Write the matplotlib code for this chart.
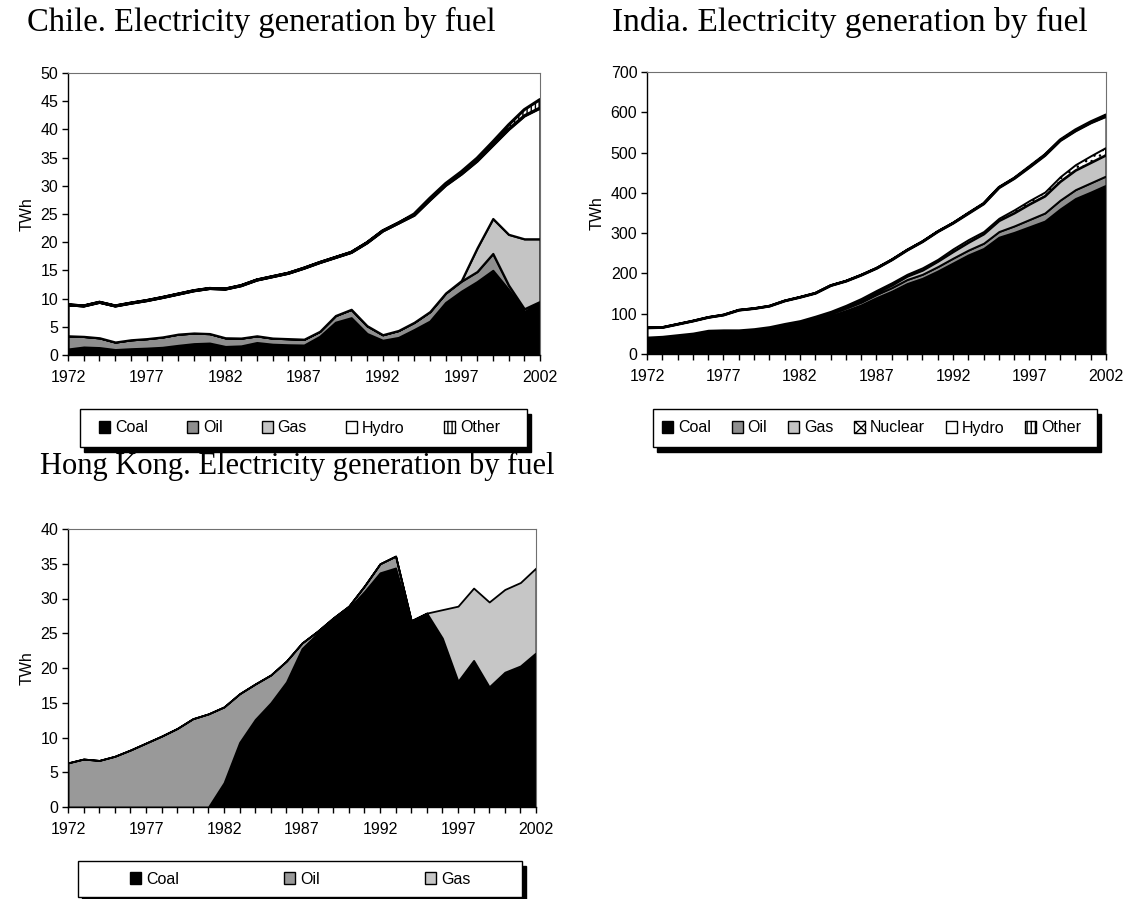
import matplotlib.pyplot as plt
from matplotlib.patches import Patch, Rectangle
from matplotlib.ticker import MultipleLocator

years = list(range(1972, 2003))

# Chile, TWh
chile_coal = [1.05, 1.4, 1.3, 0.95, 1.1, 1.2, 1.35, 1.7, 2.0, 2.1, 1.5, 1.6, 2.2, 1.9, 1.8, 1.75,
              3.3, 5.8, 6.6, 3.8, 2.6, 3.1, 4.5, 6.0, 9.3, 11.3, 13.0, 15.0, 11.6, 7.7, 9.2]
chile_oil = [2.35, 1.9, 1.75, 1.35, 1.6, 1.7, 1.85, 2.0, 1.9, 1.7, 1.55, 1.4, 1.2, 1.1, 1.1, 1.05,
             0.9, 1.2, 1.5, 1.4, 1.0, 1.25, 1.3, 1.7, 1.7, 1.8, 1.8, 3.0, 0.8, 0.5, 0.3]
chile_gas = [0, 0, 0, 0, 0, 0, 0, 0, 0, 0, 0, 0, 0, 0, 0, 0,
             0, 0, 0, 0, 0, 0, 0, 0, 0, 0.1, 4.2, 6.2, 9.0, 12.4, 11.1]
chile_hydro = [5.5, 5.4, 6.3, 6.4, 6.5, 6.75, 7.0, 7.1, 7.5, 8.0, 8.65, 9.3, 9.9, 10.9, 11.6, 12.6,
               12.2, 10.3, 10.1, 14.7, 18.4, 19.05, 19.0, 19.8, 19.1, 18.9, 15.4, 13.0, 18.6, 21.8, 23.2]
chile_other = [0, 0, 0, 0, 0, 0, 0, 0, 0, 0, 0, 0, 0, 0, 0, 0,
               0, 0, 0, 0, 0, 0, 0.2, 0.3, 0.3, 0.4, 0.5, 0.6, 0.8, 1.1, 1.5]

# India, TWh
india_coal = [38, 40, 44, 48, 53, 54, 54, 57, 61, 68, 76, 84, 95, 108, 122, 140,
              156, 175, 188, 206, 226, 246, 262, 290, 302, 316, 330, 360, 386, 402, 419]
india_oil = [2, 2, 2, 2, 3, 3, 3, 3, 3, 4, 4, 5, 5, 6, 7, 8,
             9, 10, 10, 11, 12, 12, 13, 14, 16, 18, 20, 22, 22, 23, 23]
india_gas = [0, 0, 0, 0, 0, 0, 0, 0, 1, 1, 1, 2, 2, 3, 4, 5,
             6, 8, 10, 13, 16, 19, 23, 27, 32, 38, 42, 46, 48, 50, 52]
india_nuclear = [2, 2, 2, 2, 3, 3, 3, 3, 3, 3, 2, 3, 4, 4, 5, 5,
                 6, 5, 6, 5, 7, 7, 6, 6, 8, 9, 10, 12, 14, 17, 19]
india_hydro = [23, 22, 26, 30, 32, 37, 49, 50, 51, 56, 58, 57, 64, 60, 58, 55,
               57, 60, 65, 69, 64, 65, 69, 76, 78, 83, 91, 90, 84, 82, 77]
india_other = [0, 0, 0, 0, 0, 0, 0, 0, 0, 0, 0, 0, 0, 0, 0, 0,
               0, 0, 0, 0, 0, 1, 1, 1, 1, 2, 2, 2, 3, 3, 4]

# Hong Kong, TWh
hk_coal = [0, 0, 0, 0, 0, 0, 0, 0, 0, 0, 3.5, 9.3, 12.6, 15.0, 18.0, 22.8,
           25.0, 26.9, 28.6, 31.0, 33.7, 34.4, 26.6, 27.6, 24.2, 18.0, 21.0, 17.2, 19.3, 20.2, 22.1]
hk_oil = [6.35, 6.9, 6.7, 7.3, 8.2, 9.2, 10.2, 11.3, 12.7, 13.4, 10.9, 7.0, 5.1, 4.0, 3.0, 0.8,
          0.3, 0.3, 0.3, 0.8, 1.3, 1.7, 0.2, 0.3, 0.1, 0.1, 0.1, 0.1, 0.1, 0.1, 0.1]
hk_gas = [0, 0, 0, 0, 0, 0, 0, 0, 0, 0, 0, 0, 0, 0, 0, 0,
          0, 0, 0, 0, 0, 0, 0, 0, 4.1, 10.8, 10.4, 12.2, 11.9, 12.0, 12.2]

COAL, OIL, GAS = 'black', '#8e8e8e', '#c4c4c4'

plt.rcParams['font.family'] = ['Liberation Sans', 'DejaVu Sans']
plt.rcParams['hatch.linewidth'] = 1.0

W, H = 1127, 899
fig = plt.figure(figsize=(W / 100, H / 100), dpi=100)


def px_axes(left, top, right, bottom):
    return fig.add_axes([left / W, 1 - bottom / H, (right - left) / W, (bottom - top) / H])


def style(ax, ymax, ystep):
    ax.set_xlim(1972, 2002)
    ax.set_ylim(0, ymax)
    ax.set_xticks(range(1972, 2003, 5))
    ax.xaxis.set_minor_locator(MultipleLocator(1))
    ax.yaxis.set_major_locator(MultipleLocator(ystep))
    ax.tick_params(direction='out', length=4, width=1, labelsize=11.5)
    ax.tick_params(axis='x', which='minor', direction='out', length=4, width=1)
    ax.tick_params(axis='x', pad=7)
    ax.tick_params(axis='y', pad=3)
    for s in ('top', 'right'):
        ax.spines[s].set_color('#707070')
        ax.spines[s].set_linewidth(0.8)
    for s in ('left', 'bottom'):
        ax.spines[s].set_linewidth(1.0)
    ax.set_ylabel('TWh', fontsize=11.5, labelpad=4)


def legend_box(x0, y0, x1, y1, handles, labels, first_x, spacing):
    fig.patches.append(Rectangle(((x0 + 4) / W, 1 - (y1 + 5) / H), (x1 - x0) / W, (y1 - y0) / H,
                                 transform=fig.transFigure, facecolor='black', edgecolor='black', zorder=1))
    fig.patches.append(Rectangle((x0 / W, 1 - y1 / H), (x1 - x0) / W, (y1 - y0) / H,
                                 transform=fig.transFigure, facecolor='white', edgecolor='black',
                                 linewidth=1, zorder=2))
    fig.legend(handles, labels, loc='center left', bbox_to_anchor=(first_x / W, 1 - (y0 + y1) / 2 / H),
               ncol=len(labels), frameon=False, fontsize=11.5, handlelength=0.7, handleheight=0.7,
               handletextpad=0.3, columnspacing=spacing, borderpad=0, borderaxespad=0)


def swatch(color, hatch=None):
    return Patch(facecolor=color, edgecolor='black', hatch=hatch, linewidth=1)


title_kw = dict(family='Liberation Serif', va='center', ha='left')

# Chile
ax1 = px_axes(68, 73, 540, 355)
polys = ax1.stackplot(years, chile_coal, chile_oil, chile_gas, chile_hydro, chile_other,
                      colors=[COAL, OIL, GAS, 'white', 'white'], edgecolor='black', linewidth=1.6)
polys[4].set_hatch('||||')
polys[4].set_linewidth(2.2)
style(ax1, 50, 5)
fig.text(27 / W, 1 - 22 / H, 'Chile. Electricity generation by fuel', fontsize=23.5, **title_kw)
legend_box(80, 409, 527, 447,
           [swatch(COAL), swatch(OIL), swatch(GAS), swatch('white'), swatch('white', '||||')],
           ['Coal', 'Oil', 'Gas', 'Hydro', 'Other'], 99, 2.45)

# India
ax2 = px_axes(647, 72, 1106, 354)
polys = ax2.stackplot(years, india_coal, india_oil, india_gas, india_nuclear, india_hydro, india_other,
                      colors=[COAL, OIL, GAS, 'white', 'white', 'white'], edgecolor='black', linewidth=1.4)
polys[3].set_hatch('...')
polys[5].set_hatch('||||')
polys[5].set_linewidth(1.8)
style(ax2, 700, 100)
fig.text(612 / W, 1 - 22 / H, 'India. Electricity generation by fuel', fontsize=24, **title_kw)
legend_box(653, 409, 1097, 447,
           [swatch(COAL), swatch(OIL), swatch(GAS), swatch('white', 'xxx'), swatch('white'),
            swatch('white', '||||')],
           ['Coal', 'Oil', 'Gas', 'Nuclear', 'Hydro', 'Other'], 662, 1.3)

# Hong Kong
ax3 = px_axes(68, 529, 536, 807)
ax3.stackplot(years, hk_coal, hk_oil, hk_gas, colors=[COAL, '#999999', '#c6c6c6'],
              edgecolor='black', linewidth=1.3)
style(ax3, 40, 5)
fig.text(40 / W, 1 - 466 / H, 'Hong Kong. Electricity generation by fuel', fontsize=22, **title_kw)
legend_box(78, 861, 522, 897,
           [swatch(COAL), swatch('#999999'), swatch('#c6c6c6')],
           ['Coal', 'Oil', 'Gas'], 130, 6.6)

fig.savefig('out.png', dpi=100)
